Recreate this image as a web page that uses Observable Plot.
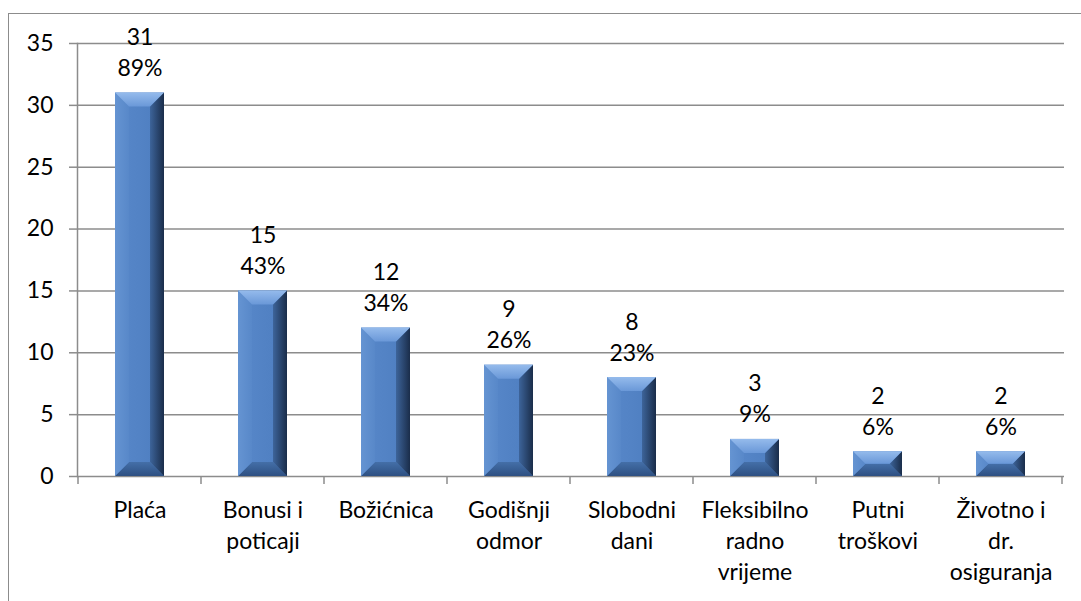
<!DOCTYPE html>
<html><head><meta charset="utf-8">
<script src="https://cdn.jsdelivr.net/npm/d3@7"></script>
<script src="https://cdn.jsdelivr.net/npm/@observablehq/plot@0.6"></script>
<style>
body{margin:0;background:#fff;}
#wrap{position:relative;width:1081px;height:601px;overflow:hidden;}
#frame{position:absolute;left:8px;top:13px;width:1100px;height:620px;border:1.5px solid #8c8c8c;box-sizing:border-box;pointer-events:none;}
#chart{position:absolute;left:0;top:0;}
</style></head><body><div id="wrap"><div id="chart"></div><div id="frame"></div></div>
<script>
const categories = ["Plaća","Bonusi i\npoticaji","Božićnica","Godišnji\nodmor","Slobodni\ndani","Fleksibilno\nradno\nvrijeme","Putni\ntroškovi","Životno i\ndr.\nosiguranja"];
const counts = [31,15,12,9,8,3,2,2];
const percents = [89,43,34,26,23,9,6,6];
const yTicks = [0,5,10,15,20,25,30,35];

const data = categories.map((c,i)=>({category:c,count:counts[i],pct:percents[i]}));
const FONT = "Lato, 'Open Sans', sans-serif";
const FS = 23;
const LH = 31/FS;

const plot = Plot.plot({
  width:1081, height:601,
  marginLeft:77, marginRight:17, marginTop:43, marginBottom:125,
  style:{fontFamily:FONT, fontSize:FS+"px", color:"#000", background:"transparent", overflow:"visible"},
  x:{domain:categories, paddingInner:0.6, paddingOuter:0.3, label:null},
  y:{domain:[0,35], label:null},
  marks:[
    Plot.gridY(yTicks, {stroke:"#8c8c8c", strokeOpacity:1, strokeWidth:1.5}),
    Plot.frame({anchor:"left", stroke:"#8c8c8c", strokeWidth:1.5}),
    Plot.axisY(yTicks, {tickSize:8, tickPadding:16, stroke:"#8c8c8c", strokeWidth:1.5, fontSize:FS, label:null, tickFormat:d=>String(d)}),
    Plot.axisX({tickSize:0, tickPadding:19, fontSize:FS, lineHeight:LH, label:null}),
    Plot.barY(data, {x:"category", y:"count", fill:"#4F81BD", className:"bevelbar"}),
    Plot.text(data, {x:"category", y:"count", text:d=>`${d.count}\n${d.pct}%`, lineAnchor:"bottom", lineHeight:LH, dy:-17, fontSize:FS, fill:"#000"})
  ]
});
document.getElementById("chart").appendChild(plot);

// decorations derived from the scales
const svg = d3.select(plot);
const defs = svg.insert("defs", ":first-child");
function grad(id, stops, vertical){
  const g = defs.append("linearGradient").attr("id", id)
    .attr("x1",0).attr("y1",0).attr("x2",vertical?0:1).attr("y2",vertical?1:0);
  stops.forEach(([o,c])=>g.append("stop").attr("offset",o).attr("stop-color",c));
}
grad("gBody", [[0,"#5b8bcc"],[0.2,"#5686c8"],[0.75,"#5080c2"],[1,"#4672b0"]], false);
grad("gTop", [[0,"#95bbec"],[1,"#6a98d8"]], true);
grad("gRight", [[0,"#3d649a"],[1,"#1a2d4a"]], false);
grad("gLeft", [[0,"#6594d2"],[1,"#5888c9"]], false);
grad("gBottom", [[0,"#446fa8"],[1,"#2e5082"]], true);

svg.selectAll("g.bevelbar rect").each(function(){
  const r = d3.select(this);
  const x = +r.attr("x"), y = +r.attr("y"), w = +r.attr("width"), h = +r.attr("height");
  r.attr("fill","url(#gBody)");
  const b = Math.min(14, h/2, w/2);
  const g = d3.select(this.parentNode);
  const poly = (pts, fill) => g.append("polygon").attr("points", pts.map(p=>p.join(",")).join(" ")).attr("fill", fill);
  poly([[x,y+h],[x+w,y+h],[x+w-b,y+h-b],[x+b,y+h-b]], "url(#gBottom)");
  poly([[x,y],[x+b,y+b],[x+b,y+h-b],[x,y+h]], "url(#gLeft)");
  poly([[x+w,y],[x+w,y+h],[x+w-b,y+h-b],[x+w-b,y+b]], "url(#gRight)");
  poly([[x,y],[x+w,y],[x+w-b,y+b],[x+b,y+b]], "url(#gTop)");
});

// category boundary ticks on the x axis
const xs = plot.scale("x"), ys = plot.scale("y");
const y0 = ys.apply(0);
const off = (xs.step - xs.bandwidth)/2;
const bounds = categories.map(c => xs.apply(c) - off);
bounds.push(xs.apply(categories[categories.length-1]) + xs.bandwidth + off);
svg.append("g").selectAll("line").data(bounds).join("line")
  .attr("x1",d=>d).attr("x2",d=>d).attr("y1",y0).attr("y2",y0+8)
  .attr("stroke","#8c8c8c").attr("stroke-width",1.5);
</script></body></html>
